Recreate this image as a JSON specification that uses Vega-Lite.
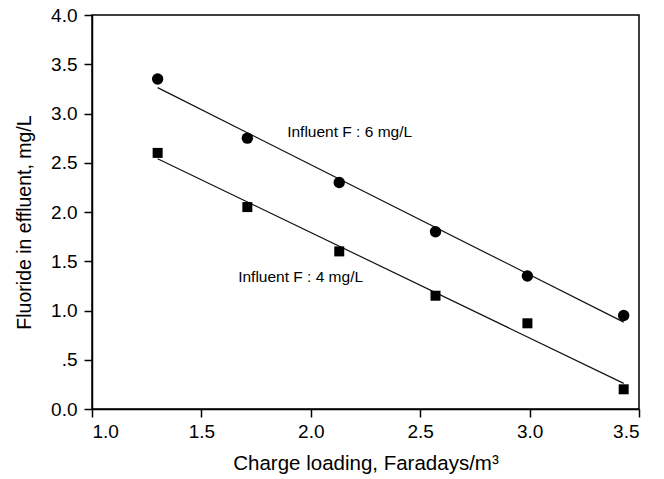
{
  "$schema": "https://vega.github.io/schema/vega-lite/v6.json",
  "autosize": {"type": "none"},
  "padding": {"left": 92, "top": 15, "right": 25, "bottom": 70},
  "width": 547,
  "height": 394,
  "background": "white",
  "config": {
    "font": "Liberation Sans",
    "view": {"stroke": "black", "strokeWidth": 1.5},
    "axis": {
      "grid": false,
      "domainColor": "black",
      "domainWidth": 1.5,
      "tickColor": "black",
      "tickWidth": 1.5,
      "tickSize": 8,
      "labelColor": "black",
      "titleColor": "black",
      "labelFont": "Liberation Sans",
      "titleFont": "Liberation Sans",
      "labelFontSize": 19,
      "titleFontWeight": "normal"
    }
  },
  "datasets": {
    "points": [
      {"x": 1.30, "y": 3.35, "series": "6 mg/L"},
      {"x": 1.71, "y": 2.75, "series": "6 mg/L"},
      {"x": 2.13, "y": 2.30, "series": "6 mg/L"},
      {"x": 2.57, "y": 1.80, "series": "6 mg/L"},
      {"x": 2.99, "y": 1.35, "series": "6 mg/L"},
      {"x": 3.43, "y": 0.95, "series": "6 mg/L"},
      {"x": 1.30, "y": 2.60, "series": "4 mg/L"},
      {"x": 1.71, "y": 2.05, "series": "4 mg/L"},
      {"x": 2.13, "y": 1.60, "series": "4 mg/L"},
      {"x": 2.57, "y": 1.15, "series": "4 mg/L"},
      {"x": 2.99, "y": 0.87, "series": "4 mg/L"},
      {"x": 3.43, "y": 0.20, "series": "4 mg/L"}
    ],
    "labels": [
      {"x": 1.892, "y": 2.765, "label": "Influent F : 6 mg/L"},
      {"x": 1.668, "y": 1.289, "label": "Influent F : 4 mg/L"}
    ]
  },
  "layer": [
    {
      "data": {"name": "points"},
      "transform": [{"regression": "y", "on": "x", "groupby": ["series"]}],
      "mark": {"type": "line", "color": "#111111", "strokeWidth": 1.2},
      "encoding": {
        "x": {"field": "x", "type": "quantitative"},
        "y": {"field": "y", "type": "quantitative"},
        "detail": {"field": "series"}
      }
    },
    {
      "data": {"name": "points"},
      "mark": {"type": "point", "filled": true, "opacity": 1, "color": "black"},
      "encoding": {
        "x": {
          "field": "x", "type": "quantitative",
          "scale": {"domain": [1.0, 3.5], "nice": false, "zero": false},
          "axis": {
            "title": "Charge loading, Faradays/m³",
            "titleFontSize": 20.5,
            "values": [1.0, 1.5, 2.0, 2.5, 3.0, 3.5],
            "format": ".1f",
            "labelPadding": 5,
            "titlePadding": 12
          }
        },
        "y": {
          "field": "y", "type": "quantitative",
          "scale": {"domain": [0, 4], "nice": false},
          "axis": {
            "title": "Fluoride in effluent, mg/L",
            "titleFontSize": 19.5,
            "titleY": 207,
            "values": [0, 0.5, 1.0, 1.5, 2.0, 2.5, 3.0, 3.5, 4.0],
            "labelExpr": "datum.value == 0.5 ? '.5' : format(datum.value, '.1f')",
            "labelPadding": 7,
            "titlePadding": 16
          }
        },
        "shape": {
          "field": "series", "type": "nominal",
          "scale": {"domain": ["6 mg/L", "4 mg/L"], "range": ["circle", "square"]},
          "legend": null
        },
        "size": {
          "field": "series", "type": "nominal",
          "scale": {"domain": ["6 mg/L", "4 mg/L"], "range": [130, 100]},
          "legend": null
        }
      }
    },
    {
      "data": {"name": "labels"},
      "mark": {"type": "text", "align": "left", "baseline": "alphabetic", "fontSize": 15.5, "color": "black", "font": "Liberation Sans"},
      "encoding": {
        "x": {"field": "x", "type": "quantitative"},
        "y": {"field": "y", "type": "quantitative"},
        "text": {"field": "label"}
      }
    }
  ]
}
